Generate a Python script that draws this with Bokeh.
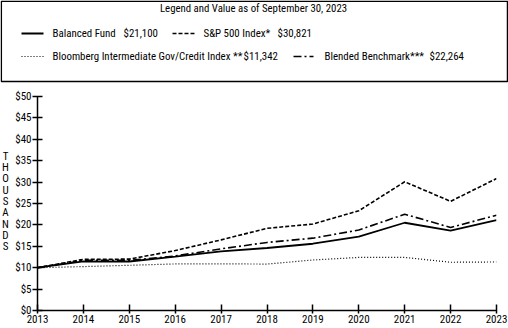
from bokeh.plotting import figure
from bokeh.layouts import column, row
from bokeh.models import Range1d, FixedTicker, PrintfTickFormatter
from bokeh.core.properties import value
from bokeh.embed import file_html
from bokeh.resources import INLINE

FONT = "Roboto Condensed"

# ---- data ----
years = [2013, 2014, 2015, 2016, 2017, 2018, 2019, 2020, 2021, 2022, 2023]
balanced = [10.0, 11.5, 11.45, 12.6, 13.8, 14.6, 15.6, 17.25, 20.5, 18.65, 21.1]
sp500 = [10.0, 11.96, 12.0, 14.0, 16.5, 19.2, 20.2, 23.3, 30.07, 25.5, 30.821]
bloomberg = [10.0, 10.26, 10.56, 10.88, 10.9, 10.85, 11.8, 12.4, 12.4, 11.27, 11.342]
blended = [10.0, 11.7, 11.7, 12.74, 14.4, 15.9, 16.9, 18.8, 22.5, 19.4, 22.264]

series_names = ["Balanced Fund", "S&P 500 Index*",
                "Bloomberg Intermediate Gov/Credit Index **", "Blended Benchmark***"]
series_values = ["$21,100", "$30,821", "$11,342", "$22,264"]
legend_title = "Legend and Value as of September 30, 2023"
y_ticks = [0, 5, 10, 15, 20, 25, 30, 35, 40, 45, 50]
axis_word = "THOUSANDS"

# styles
dashes = ["solid", "4 2", "1 2", "8 3 2 3"]
widths = [1.8, 1.6, 1.2, 1.6]

# ---- legend figure ----
LH = 88
lg = figure(width=508, height=LH, x_range=Range1d(0, 508), y_range=Range1d(LH, 0),
            x_axis_type=None, y_axis_type=None,
            output_backend="svg", toolbar_location=None, min_border=0,
            min_border_left=0, min_border_right=0, min_border_top=0, min_border_bottom=0)
lg.frame_align = False
lg.grid.visible = False
lg.outline_line_color = None
lg.quad(left=[0.8], right=[507], top=[0.8], bottom=[81], fill_color=None,
        line_color="black", line_width=1.5)
lg.text(x=[253], y=[8], text=[legend_title], text_align="center", text_baseline="middle",
        text_font=value(FONT), text_font_size="10.8px", text_color="black")

# positions: (sample x0, x1, y, name x, value x)
lpos = [(21, 43, 33, 52, 123), (172, 194, 33, 203, 277),
        (21, 43, 56, 52, 243), (293, 313, 56, 324, 429)]
for i, (x0, x1, yy, xn, xv) in enumerate(lpos):
    lg.line(x=[x0, x1], y=[yy, yy], line_color="black", line_width=widths[i],
            line_dash=dashes[i])
    lg.text(x=[xn], y=[yy], text=[series_names[i]], text_baseline="middle",
            text_font=value(FONT), text_font_size="10.9px", text_color="black")
    lg.text(x=[xv], y=[yy], text=[series_values[i]], text_baseline="middle",
            text_font=value(FONT), text_font_size="10.9px", text_color="black")

CH = 328 - LH
TW = 12  # width of the strip holding the stacked axis word

# ---- stacked axis word strip ----
th = figure(width=TW, height=CH, x_range=Range1d(0, TW), y_range=Range1d(CH, 0),
            x_axis_type=None, y_axis_type=None,
            output_backend="svg", toolbar_location=None, min_border=0,
            min_border_left=0, min_border_right=0, min_border_top=0, min_border_bottom=0)
th.frame_align = False
th.grid.visible = False
th.outline_line_color = None
letters = list(axis_word)
th.text(x=[5] * len(letters), y=[155.7 - LH + 11.3 * i for i in range(len(letters))],
        text=letters, text_align="center", text_baseline="middle",
        text_font=value(FONT), text_font_size="11px", text_color="black")

# ---- chart figure ----
p = figure(width=508 - TW, height=CH, x_range=Range1d(2013, 2023), y_range=Range1d(0, 50),
           output_backend="svg", toolbar_location=None,
           min_border_left=36 - TW, min_border_right=12,
           min_border_top=96 - LH, min_border_bottom=18)
p.frame_align = False
p.grid.visible = False
p.outline_line_color = None

series = [balanced, sp500, bloomberg, blended]
for i, s in enumerate(series):
    p.line(x=years, y=s, line_color="black", line_width=widths[i], line_dash=dashes[i])

p.xaxis.ticker = FixedTicker(ticks=years)
p.yaxis.ticker = FixedTicker(ticks=y_ticks)
p.yaxis.formatter = PrintfTickFormatter(format="$%d")
for ax in (p.xaxis[0], p.yaxis[0]):
    ax.axis_line_color = "black"
    ax.axis_line_width = 1.5
    ax.major_tick_line_color = "black"
    ax.major_tick_line_width = 1.5
    ax.minor_tick_line_color = None
    ax.major_label_text_font = FONT
    ax.major_label_text_font_size = "11px"
    ax.major_label_text_color = "black"
p.yaxis.major_tick_out = 5
p.yaxis.major_tick_in = 5
p.yaxis.major_label_standoff = 1
p.xaxis.major_tick_out = 3
p.xaxis.major_tick_in = 6
p.xaxis.major_label_standoff = 1

layout = column(lg, row(th, p, spacing=0), spacing=0)
open("out.html", "w").write(file_html(layout, INLINE))
